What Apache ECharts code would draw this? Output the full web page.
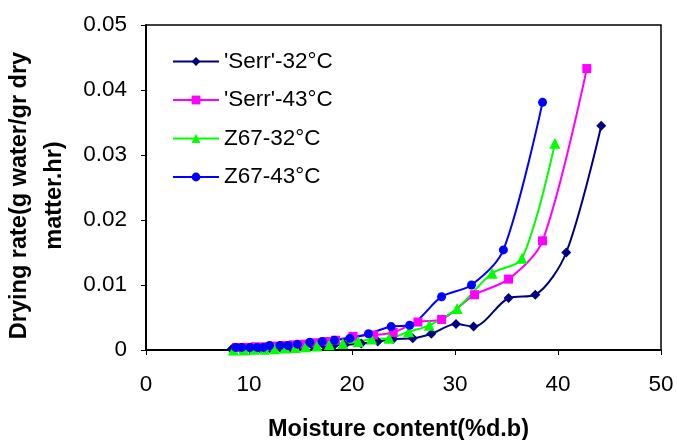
<!DOCTYPE html>
<html><head><meta charset="utf-8">
<script src="https://cdn.jsdelivr.net/npm/echarts@6/dist/echarts.min.js"></script>
<style>html,body{margin:0;padding:0;background:#fff}#c{width:677px;height:440px}</style>
</head><body><div id="c"></div>
<script>
const seriesNames = ["'Serr'-32°C", "'Serr'-43°C", "Z67-32°C", "Z67-43°C"];
const serr32X = [8.3, 9.2, 10.1, 11.0, 12.0, 13.0, 14.0, 15.1, 16.2, 17.3, 18.3, 19.3, 20.9, 22.5, 24.0, 25.9, 27.7, 30.1, 31.8, 35.2, 37.8, 40.8, 44.2];
const serr32Y = [0.0001, 0.0002, 0.0002, 0.0003, 0.0003, 0.0004, 0.0004, 0.0005, 0.0006, 0.0007, 0.0008, 0.0008, 0.0010, 0.0013, 0.0017, 0.0018, 0.0025, 0.0040, 0.0036, 0.0080, 0.0085, 0.0150, 0.0345];
const serr43X = [8.8, 9.7, 10.6, 11.5, 12.3, 13.3, 14.3, 15.4, 16.5, 17.5, 18.4, 20.1, 22.1, 24.0, 26.4, 28.7, 31.9, 35.2, 38.5, 42.8];
const serr43Y = [0.0004, 0.0004, 0.0005, 0.0005, 0.0006, 0.0007, 0.0008, 0.0009, 0.0011, 0.0013, 0.0015, 0.0021, 0.0023, 0.0027, 0.0043, 0.0047, 0.0085, 0.0109, 0.0168, 0.0433];
const z32X = [8.5, 9.5, 10.5, 11.5, 12.5, 13.5, 14.5, 15.5, 16.6, 17.8, 19.1, 20.6, 21.9, 23.6, 25.5, 27.5, 30.2, 33.6, 36.5, 39.7];
const z32Y = [0.0000, 0.0000, 0.0001, 0.0001, 0.0002, 0.0003, 0.0004, 0.0005, 0.0006, 0.0008, 0.0010, 0.0013, 0.0017, 0.0018, 0.0028, 0.0038, 0.0064, 0.0118, 0.0141, 0.0318];
const z43X = [8.7, 9.3, 10.1, 10.8, 11.4, 12.0, 13.0, 13.8, 14.7, 15.9, 17.1, 18.3, 19.8, 21.6, 23.8, 25.6, 28.7, 31.6, 34.7, 38.5];
const z43Y = [0.0004, 0.0004, 0.0004, 0.0004, 0.0004, 0.0007, 0.0007, 0.0007, 0.0009, 0.0012, 0.0013, 0.0015, 0.0018, 0.0025, 0.0036, 0.0038, 0.0082, 0.0100, 0.0154, 0.0381];
const xTicks = [0, 10, 20, 30, 40, 50];
const yTicks = [0, 0.01, 0.02, 0.03, 0.04, 0.05];

const zip = (a, b) => a.map((v, i) => [v, b[i]]);
const colors = ['#000080', '#FF00FF', '#00FF00', '#0000FF'];
const symbols = ['diamond', 'rect', 'triangle', 'circle'];
const sizes = [10, 9, 11, 9];
const datas = [zip(serr32X, serr32Y), zip(serr43X, serr43Y), zip(z32X, z32Y), zip(z43X, z43Y)];
const font = 'Liberation Sans, Arial, sans-serif';

const chart = echarts.init(document.getElementById('c'), null, {renderer: 'canvas'});
chart.setOption({
  animation: false,
  backgroundColor: '#fff',
  grid: {left: 146, right: 16, top: 25, bottom: 90, show: true, borderColor: '#000', borderWidth: 1.5,
    containLabel: false, outerBoundsMode: 'none'},
  legend: {
    orient: 'vertical', left: 167, top: 45, itemGap: 15.5, itemWidth: 46, itemHeight: 11,
    textStyle: {fontFamily: font, fontSize: 22.5, color: '#000'},
    data: seriesNames
  },
  xAxis: {
    type: 'value', min: 0, max: 50, interval: 10,
    name: 'Moisture content(%d.b)', nameLocation: 'middle', nameGap: 68,
    nameTextStyle: {fontFamily: font, fontSize: 23.5, fontWeight: 'bold', color: '#000', padding: [0, 10, 0, 0]},
    axisLine: {lineStyle: {color: '#000', width: 2}},
    axisTick: {show: true, inside: false, length: 5, lineStyle: {color: '#000'}},
    axisLabel: {fontFamily: font, fontSize: 22.5, color: '#000', margin: 23,
      formatter: v => xTicks.includes(v) ? String(v) : ''},
    splitLine: {show: false}
  },
  yAxis: {
    type: 'value', min: 0, max: 0.05, interval: 0.01,
    name: 'Drying rate(g water/gr dry\nmatter.hr)', nameLocation: 'middle', nameGap: 65,
    nameTextStyle: {fontFamily: font, fontSize: 23.5, fontWeight: 'bold', color: '#000', lineHeight: 35, padding: [0, 16, 0, 0]},
    axisLine: {lineStyle: {color: '#000', width: 2}},
    axisTick: {show: true, inside: false, length: 5, lineStyle: {color: '#000'}},
    axisLabel: {fontFamily: font, fontSize: 22.5, color: '#000', margin: 19,
      formatter: v => { const t = yTicks.find(k => Math.abs(k - v) < 1e-9); return t === undefined ? '' : (t === 0 ? '0' : t.toFixed(2)); }},
    splitLine: {show: false}
  },
  series: seriesNames.map((n, i) => ({
    name: n, type: 'line', data: datas[i], smooth: 0.3,
    symbol: symbols[i], symbolSize: sizes[i], showSymbol: true,
    itemStyle: {color: colors[i]},
    lineStyle: {color: colors[i], width: 2}
  }))
});
</script></body></html>
